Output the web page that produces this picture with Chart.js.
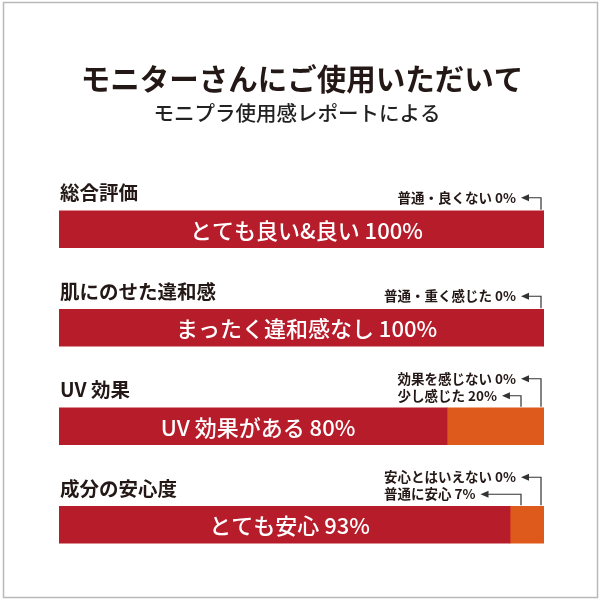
<!DOCTYPE html>
<html lang="ja">
<head>
<meta charset="utf-8">
<title>モニターさんにご使用いただいて</title>
<script src="https://cdn.jsdelivr.net/npm/chart.js@4.4.1/dist/chart.umd.min.js"></script>
<style>
  html, body { margin: 0; padding: 0; background: #fff; }
  #wrap { width: 600px; height: 600px; position: relative; }
</style>
</head>
<body>
<div id="wrap"><canvas id="surveyChart"></canvas></div>
<script>
'use strict';

// データ
const categories = ['総合評価', '肌にのせた違和感', 'UV 効果', '成分の安心度'];
const mainLabels = ['とても良い&良い', 'まったく違和感なし', 'UV 効果がある', 'とても安心'];
const mainValues = [100, 100, 80, 93];
const midLabels = [null, null, '少し感じた', '普通に安心'];
const midValues = [0, 0, 20, 7];
const lowLabels = ['普通・良くない', '普通・重く感じた', '効果を感じない', '安心とはいえない'];
const lowValues = [0, 0, 0, 0];

const titleText = 'モニターさんにご使用いただいて';
const subtitleText = 'モニプラ使用感レポートによる';

const FONT = '"Noto Sans CJK JP", "Noto Sans", sans-serif';
const RED = '#b71c2b';
const ORANGE = '#dd5a1c';
const INK = '#231815';

function arrowLine(ctx, x0, y, bx, yBottom) {
  // 矢印（左向き）＋ 鉤型の線
  ctx.save();
  ctx.strokeStyle = '#333';
  ctx.fillStyle = '#333';
  ctx.lineWidth = 1.2;
  ctx.beginPath();
  ctx.moveTo(x0 + 6, y);
  ctx.lineTo(bx, y);
  ctx.lineTo(bx, yBottom);
  ctx.stroke();
  ctx.beginPath();
  ctx.moveTo(x0, y);
  ctx.lineTo(x0 + 8, y - 3.5);
  ctx.lineTo(x0 + 8, y + 3.5);
  ctx.closePath();
  ctx.fill();
  ctx.restore();
}

const decorPlugin = {
  id: 'decor',
  beforeDraw(chart) {
    const ctx = chart.ctx;
    ctx.save();
    ctx.fillStyle = '#fff';
    ctx.fillRect(0, 0, chart.width, chart.height);
    ctx.strokeStyle = '#b9b9b9';
    ctx.lineWidth = 1.5;
    ctx.strokeRect(3.5, 2.5, 594, 595);

    ctx.fillStyle = INK;
    ctx.textAlign = 'center';
    ctx.textBaseline = 'middle';
    ctx.font = 'bold 29.5px ' + FONT;
    ctx.fillText(titleText, 302, 79);
    ctx.font = '500 20.5px ' + FONT;
    ctx.fillStyle = '#222';
    ctx.fillText(subtitleText, 297, 113);
    ctx.restore();
  },
  afterDatasetsDraw(chart) {
    const ctx = chart.ctx;
    const x = chart.scales.x;
    const mainMeta = chart.getDatasetMeta(0);
    const right = x.getPixelForValue(100);

    ctx.save();
    categories.forEach((cat, i) => {
      const bar = mainMeta.data[i];
      const top = bar.y - bar.height / 2;

      // 項目名
      ctx.fillStyle = INK;
      ctx.textAlign = 'left';
      ctx.textBaseline = 'middle';
      ctx.font = 'bold 19.5px ' + FONT;
      ctx.fillText(cat, x.left + 1, top - 18);

      // バー内ラベル
      ctx.fillStyle = '#fff';
      ctx.textAlign = 'center';
      ctx.font = '500 22px ' + FONT;
      ctx.fillText(mainLabels[i] + ' ' + mainValues[i] + '%', (bar.base + bar.x) / 2 + 5, bar.y + 1);

      // 注記
      ctx.fillStyle = INK;
      ctx.textAlign = 'left';
      ctx.font = 'bold 13.5px ' + FONT;
      const lowText = lowLabels[i] + ' ' + lowValues[i] + '%';
      const lowW = ctx.measureText(lowText).width;
      const textLeft = right - 28 - lowW;
      const lowY = midLabels[i] ? top - 29 : top - 13;
      ctx.fillText(lowText, textLeft, lowY);
      arrowLine(ctx, textLeft + lowW + 5, lowY, right - 3, top - 1);

      if (midLabels[i]) {
        const midText = midLabels[i] + ' ' + midValues[i] + '%';
        const midW = ctx.measureText(midText).width;
        const midY = top - 12;
        ctx.fillText(midText, textLeft, midY);
        arrowLine(ctx, textLeft + midW + 5, midY, right - 23, top - 1);
      }
    });
    ctx.restore();
  },
};

new Chart(document.getElementById('surveyChart'), {
  type: 'bar',
  data: {
    labels: categories,
    datasets: [
      { label: 'main', data: mainValues, backgroundColor: RED, barThickness: 37 },
      { label: 'mid', data: midValues, backgroundColor: ORANGE, barThickness: 37 },
      { label: 'low', data: lowValues, backgroundColor: '#999', barThickness: 37 },
    ],
  },
  options: {
    indexAxis: 'y',
    responsive: true,
    maintainAspectRatio: false,
    animation: false,
    layout: { padding: { left: 59, right: 56, top: 180, bottom: 26 } },
    plugins: { legend: { display: false }, tooltip: { enabled: false } },
    scales: {
      x: { stacked: true, min: 0, max: 100, display: false },
      y: { stacked: true, display: false },
    },
  },
  plugins: [decorPlugin],
});
</script>
</body>
</html>
